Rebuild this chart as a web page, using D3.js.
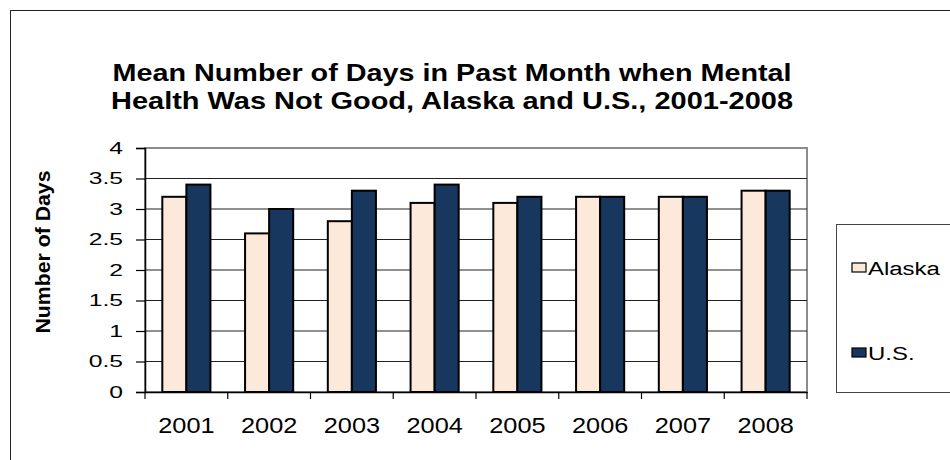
<!DOCTYPE html>
<html>
<head>
<meta charset="utf-8">
<script src="https://cdn.jsdelivr.net/npm/d3@7"></script>
<style>
body { margin: 0; background: #fff; }
text { font-family: "Liberation Sans", Arial, sans-serif; }
</style>
</head>
<body>
<svg width="950" height="460"></svg>
<script>
var years = ["2001", "2002", "2003", "2004", "2005", "2006", "2007", "2008"];
var alaska = [3.2, 2.6, 2.8, 3.1, 3.1, 3.2, 3.2, 3.3];
var us = [3.4, 3.0, 3.3, 3.4, 3.2, 3.2, 3.2, 3.3];
var seriesNames = ["Alaska", "U.S."];
var yTicks = [0, 0.5, 1, 1.5, 2, 2.5, 3, 3.5, 4];

var svg = d3.select("svg");
var colors = ["#fde9d9", "#17375e"];

// the original picture is stretched sideways, so widen the glyphs to match
function stretch(sel, sx) {
  sel.each(function() {
    var len = this.getComputedTextLength();
    d3.select(this).attr("textLength", len * sx).attr("lengthAdjust", "spacingAndGlyphs");
  });
}

// outer chart border
svg.append("rect")
  .attr("x", 10.5).attr("y", 10.5)
  .attr("width", 960).attr("height", 470)
  .attr("fill", "none").attr("stroke", "#222").attr("stroke-width", 1);

var plotLeft = 145, plotRight = 807, plotTop = 148, plotBottom = 392;

var x = d3.scaleBand()
  .domain(years)
  .range([plotLeft, plotRight]);
var y = d3.scaleLinear()
  .domain([0, 4])
  .range([plotBottom, plotTop]);

// title
var title = svg.append("text")
  .attr("text-anchor", "middle")
  .attr("font-weight", "bold").attr("font-size", 24);
title.append("tspan").attr("x", 452).attr("y", 81)
  .attr("textLength", 679).attr("lengthAdjust", "spacingAndGlyphs")
  .text("Mean Number of Days in Past Month when Mental");
title.append("tspan").attr("x", 452).attr("y", 109)
  .attr("textLength", 682).attr("lengthAdjust", "spacingAndGlyphs")
  .text("Health Was Not Good, Alaska and U.S., 2001-2008");

// plot area border
svg.append("rect")
  .attr("x", plotLeft).attr("y", plotTop)
  .attr("width", plotRight - plotLeft).attr("height", plotBottom - plotTop)
  .attr("fill", "#fff").attr("stroke", "#8c8c8c").attr("stroke-width", 2);

// gridlines
svg.append("g").selectAll("line")
  .data(yTicks.slice(1, -1))
  .enter().append("line")
  .attr("x1", plotLeft).attr("x2", plotRight)
  .attr("y1", function(d) { return y(d); })
  .attr("y2", function(d) { return y(d); })
  .attr("stroke", "#222").attr("stroke-width", 1.2);

// bars
var inner = d3.scaleBand()
  .domain(seriesNames)
  .range([0, x.bandwidth()])
  .paddingOuter(0.72);

var groups = svg.append("g").selectAll("g")
  .data(years)
  .enter().append("g")
  .attr("transform", function(d) { return "translate(" + x(d) + ",0)"; });

groups.selectAll("rect")
  .data(function(d, i) { return [{k: "Alaska", v: alaska[i]}, {k: "U.S.", v: us[i]}]; })
  .enter().append("rect")
  .attr("x", function(d) { return inner(d.k); })
  .attr("width", inner.bandwidth())
  .attr("y", function(d) { return y(d.v); })
  .attr("height", function(d) { return plotBottom - y(d.v); })
  .attr("fill", function(d, i) { return colors[i]; })
  .attr("stroke", "#000").attr("stroke-width", 2);

// y axis
var yAxis = svg.append("g")
  .attr("transform", "translate(" + plotLeft + ",0)")
  .call(d3.axisLeft(y).tickValues(yTicks).tickFormat(d3.format("")).tickSize(9).tickPadding(13));
yAxis.select(".domain").attr("stroke", "#000").attr("stroke-width", 1.5);
yAxis.selectAll(".tick line").attr("stroke", "#000").attr("stroke-width", 1.2);
yAxis.selectAll("text").attr("font-size", 17).attr("fill", "#000")
  .style("font-family", "'Liberation Sans', Arial, sans-serif");
stretch(yAxis.selectAll("text"), 1.45);

// x axis
var xAxis = svg.append("g")
  .attr("transform", "translate(0," + plotBottom + ")")
  .call(d3.axisBottom(x).tickSize(0).tickPadding(25));
xAxis.select(".domain").attr("stroke", "#000").attr("stroke-width", 1.5);
xAxis.selectAll("text").attr("font-size", 22).attr("fill", "#000")
  .style("font-family", "'Liberation Sans', Arial, sans-serif");
stretch(xAxis.selectAll("text"), 1.15);
svg.append("g").selectAll("line")
  .data(d3.range(years.length + 1))
  .enter().append("line")
  .attr("x1", function(d) { return plotLeft + d * x.step(); })
  .attr("x2", function(d) { return plotLeft + d * x.step(); })
  .attr("y1", plotBottom).attr("y2", plotBottom + 7)
  .attr("stroke", "#000").attr("stroke-width", 1.2);

// y axis title
svg.append("text")
  .attr("transform", "translate(50,252) rotate(-90)")
  .attr("text-anchor", "middle")
  .attr("font-weight", "bold").attr("font-size", 21)
  .attr("textLength", 163).attr("lengthAdjust", "spacingAndGlyphs")
  .text("Number of Days");

// legend
svg.append("rect")
  .attr("x", 836.5).attr("y", 224.5)
  .attr("width", 140).attr("height", 168)
  .attr("fill", "#fff").attr("stroke", "#444").attr("stroke-width", 1);

var legend = svg.append("g").selectAll("g")
  .data(seriesNames)
  .enter().append("g")
  .attr("transform", function(d, i) { return "translate(852," + (275 + i * 85) + ")"; });
legend.append("rect")
  .attr("x", 0).attr("y", -12).attr("width", 14).attr("height", 9)
  .attr("fill", function(d, i) { return colors[i]; })
  .attr("stroke", "#000").attr("stroke-width", 1.2);
var legendText = legend.append("text")
  .attr("x", 16).attr("y", 0)
  .attr("font-size", 18)
  .text(function(d) { return d; });
stretch(legendText, 1.33);
</script>
</body>
</html>
